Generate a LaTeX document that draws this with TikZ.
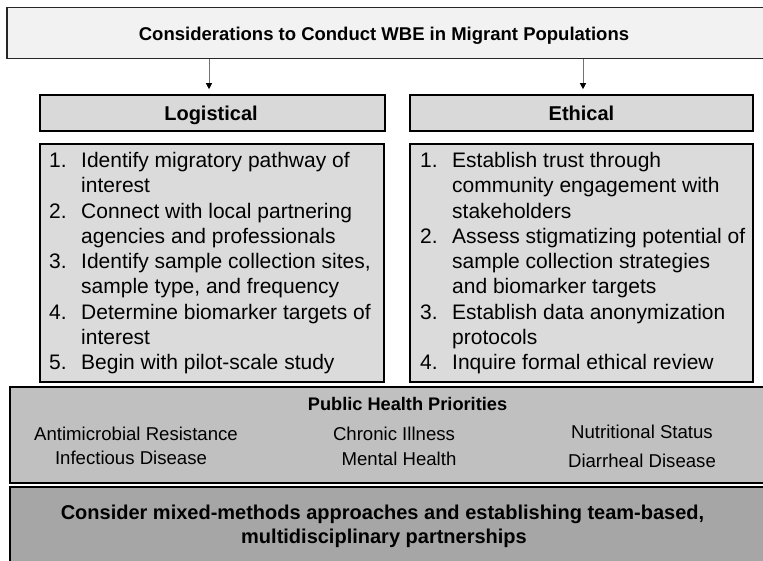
\documentclass[tikz,border=0pt]{standalone}
\usepackage{fontspec}
\setmainfont{Liberation Sans}
\usetikzlibrary{arrows.meta}
\definecolor{topfill}{HTML}{F2F2F2}
\definecolor{headfill}{HTML}{D9D9D9}
\definecolor{listfill}{HTML}{DBDBDB}
\definecolor{phfill}{HTML}{C0C0C0}
\definecolor{botfill}{HTML}{A6A6A6}
\tikzset{
  boxbase/.style={draw=black, line width=1.6pt, rectangle, inner sep=0pt},
  titlebox/.style={boxbase, fill=topfill, draw=black!85},
  headbox/.style={boxbase, fill=headfill},
  listbox/.style={boxbase, fill=listfill},
  phbox/.style={boxbase, fill=phfill},
  botbox/.style={boxbase, fill=botfill},
  boldtxt/.style={font=\bfseries\fontsize{#1}{24}\selectfont, inner sep=0pt, anchor=base},
  boldtxt/.default=20,
  itemtxt/.style={font=\fontsize{18.6}{24}\selectfont, inner sep=0pt, anchor=base},
  listtxt/.style={font=\fontsize{21}{25.3}\selectfont, inner sep=0pt, align=left, anchor=north west},
  conn/.style={draw=black!55, line width=0.8pt, -{Triangle[length=6pt,width=6pt,color=black]}, shorten >=5pt}
}
\newcommand{\numbox}[1]{\makebox[32pt][l]{#1}}
\newcommand{\indentbox}{\hspace*{32pt}}
\begin{document}
\begin{tikzpicture}[x=1pt,y=-1pt]
\useasboundingbox (0,0) rectangle (763,561);
\clip (0,0) rectangle (763,561);
% boxes
\node[titlebox, minimum width=760, minimum height=51] (top) at (387,33) {};
\node[boldtxt=18.5] (title) at (384,41) {Considerations to Conduct WBE in Migrant Populations};
\node[headbox, minimum width=345, minimum height=36] (log) at (212.5,113) {};
\node[boldtxt] (logt) at (211,121) {Logistical};
\node[headbox, minimum width=343, minimum height=36] (eth) at (581.5,113) {};
\node[boldtxt] (etht) at (581.5,121) {Ethical};
\node[listbox, minimum width=344, minimum height=238] (logl) at (212,263) {};
\node[listbox, minimum width=343, minimum height=238] (ethl) at (581.5,263) {};
\node[phbox, minimum width=760, minimum height=96] (ph) at (390,435) {};
\node[botbox, minimum width=760, minimum height=88] (bot) at (390,531) {};
% arrows
\coordinate (a1) at (209,0);
\coordinate (a2) at (583,0);
\draw[conn] (top.south -| a1) -- (log.north -| a1);
\draw[conn] (top.south -| a2) -- (eth.north -| a2);
% lists
\node[listtxt] (ltxt) at (49,152) {%
\numbox{1.}Identify migratory pathway of\\
\indentbox interest\\
\numbox{2.}Connect with local partnering\\
\indentbox agencies and professionals\\
\numbox{3.}Identify sample collection sites,\\
\indentbox sample type, and frequency\\
\numbox{4.}Determine biomarker targets of\\
\indentbox interest\\
\numbox{5.}Begin with pilot-scale study};
\node[listtxt] (etxt) at (420,152) {%
\numbox{1.}Establish trust through\\
\indentbox community engagement with\\
\indentbox stakeholders\\
\numbox{2.}Assess stigmatizing potential of\\
\indentbox sample collection strategies\\
\indentbox and biomarker targets\\
\numbox{3.}Establish data anonymization\\
\indentbox protocols\\
\numbox{4.}Inquire formal ethical review};
% public health priorities
\node[boldtxt=18.2] (pht) at (407.5,410) {Public Health Priorities};
\node[itemtxt] (p1) at (136,440) {Antimicrobial Resistance};
\node[itemtxt] (p2) at (131,464) {Infectious Disease};
\node[itemtxt] (p3) at (394,440) {Chronic Illness};
\node[itemtxt] (p4) at (399,465) {Mental Health};
\node[itemtxt] (p5) at (642,438) {Nutritional Status};
\node[itemtxt] (p6) at (642,467) {Diarrheal Disease};
% bottom text
\node[boldtxt] (bt1) at (382.5,519) {Consider mixed-methods approaches and establishing team-based,};
\node[boldtxt] (bt2) at (384,543) {multidisciplinary partnerships};
\end{tikzpicture}
\end{document}
